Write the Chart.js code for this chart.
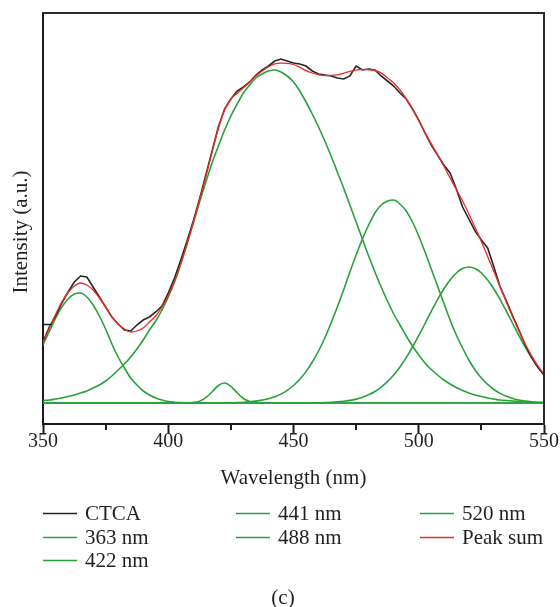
<!DOCTYPE html>
<html>
<head>
<meta charset="utf-8">
<title>CTCA peak fit</title>
<script src="https://cdn.jsdelivr.net/npm/chart.js@4.4.1/dist/chart.umd.min.js"></script>
<style>
  html, body { margin: 0; padding: 0; background: #fff; }
  canvas { display: block; }
</style>
</head>
<body>
<canvas id="chart" width="560" height="607"></canvas>
<script>
// --- data (intensity in a.u., baseline = 0) ---
// x grid: 350 .. 550 nm every 2.5 nm (81 points)
const wavelengths = Array.from({ length: 81 }, (_, i) => 350 + 2.5 * i);

const ctca = [
  61, 76, 87, 100, 111, 121, 127, 126, 116, 106,
  96, 86, 79, 73, 72, 78, 83, 86, 91, 97,
  110, 125, 143, 162, 182, 204, 228, 252, 276, 294,
  304, 312, 316, 321, 328, 333, 337, 342, 344, 342,
  340, 339, 337, 332, 329, 328, 327, 325, 324, 327,
  337, 333, 334, 333, 327, 322, 317, 310, 304, 294,
  283, 270, 258, 248, 238, 230, 214, 196, 184, 172,
  163, 155, 136, 116, 102, 87, 73, 58, 46, 36,
  28
];

const p363 = [
  58, 71.5, 84.5, 96, 104, 109, 110, 106, 98, 87,
  74, 59, 46, 35, 25, 18, 12, 8, 5, 3,
  1.5, 0.8, 0.4, 0.2, 0, 0, 0, 0, 0, 0,
  0, 0, 0, 0, 0, 0, 0, 0, 0, 0,
  0, 0, 0, 0, 0, 0, 0, 0, 0, 0,
  0, 0, 0, 0, 0, 0, 0, 0, 0, 0,
  0, 0, 0, 0, 0, 0, 0, 0, 0, 0,
  0, 0, 0, 0, 0, 0, 0, 0, 0, 0,
  0
];

const p422 = [
  0, 0, 0, 0, 0, 0, 0, 0, 0, 0,
  0, 0, 0, 0, 0, 0, 0, 0, 0, 0,
  0, 0, 0, 0.1, 0.5, 1.8, 5.3, 11.2, 17.5, 20,
  16.7, 10.2, 4.5, 1.5, 0.4, 0.1, 0, 0, 0, 0,
  0, 0, 0, 0, 0, 0, 0, 0, 0, 0,
  0, 0, 0, 0, 0, 0, 0, 0, 0, 0,
  0, 0, 0, 0, 0, 0, 0, 0, 0, 0,
  0, 0, 0, 0, 0, 0, 0, 0, 0, 0,
  0
];

const p441 = [
  2.5, 3, 4, 5, 6.5, 8, 10, 12, 15, 18,
  22, 27, 33, 39, 46, 54, 63, 73, 82, 93,
  106, 121, 139, 159, 180, 201, 221, 240, 257, 273,
  287, 299, 310, 318, 325, 329, 332, 333, 331, 327,
  321, 312, 301, 289, 276, 262, 247, 231, 215, 198,
  181, 164, 147, 131, 116, 102, 89, 78, 67, 57,
  48, 40, 33.5, 28, 23, 19, 15.5, 12.5, 10, 8,
  6.5, 5, 4, 3, 2.5, 2, 1.5, 1, 0.7, 0.5,
  0.3
];

const p488 = [
  0, 0, 0, 0, 0, 0, 0, 0, 0, 0,
  0, 0, 0, 0, 0, 0, 0, 0, 0, 0,
  0, 0, 0, 0, 0, 0, 0, 0, 0, 0,
  0.2, 0.4, 0.7, 1.2, 1.9, 2.9, 4.2, 6.2, 8.9, 12.6,
  17.5, 23.7, 31.4, 41, 52, 65, 80, 96, 113, 131,
  148, 164, 178, 190, 198, 202, 203, 199, 192, 181,
  167, 151, 134, 117, 100, 83, 68, 55, 43, 33,
  25, 18.6, 13.5, 9.6, 6.7, 4.6, 3, 2, 1.3, 0.8,
  0.5
];

const p520 = [
  0, 0, 0, 0, 0, 0, 0, 0, 0, 0,
  0, 0, 0, 0, 0, 0, 0, 0, 0, 0,
  0, 0, 0, 0, 0, 0, 0, 0, 0, 0,
  0, 0, 0, 0, 0, 0, 0, 0, 0, 0,
  0, 0, 0, 0, 0.25, 0.4, 0.7, 1.1, 1.7, 2.6,
  3.9, 5.7, 8.2, 11.5, 15.9, 21.3, 28, 36, 45.4, 56,
  67.4, 79.5, 91.6, 103.4, 114, 123, 130, 134.5, 136, 134.5,
  130, 123, 114, 103.4, 91.6, 79.5, 67.4, 56, 45.4, 36,
  28
];

const peakSum = [
  60.5, 74.5, 88.5, 101, 110.5, 117, 120, 118, 113, 105,
  96, 86, 79, 74, 71, 72, 75, 81, 87, 96,
  107.5, 121.8, 139.4, 159.3, 180.5, 202.8, 226.3, 251.2, 274.5, 293,
  303.9, 309.6, 315.2, 320.7, 327.3, 332, 336.2, 339.2, 339.9, 339.6,
  338.5, 335.7, 332.4, 330, 328.3, 327.4, 327.7, 328.1, 329.7, 331.6,
  332.9, 333.7, 333.2, 332.5, 329.9, 325.3, 320, 313, 304.4, 294,
  282.4, 270.5, 259.1, 248.4, 237, 225, 213.5, 202, 189, 175.5,
  161.5, 146.6, 131.5, 116, 100.8, 86.1, 71.9, 59, 47.4, 37.3,
  28.8
];

const xMajorTicks = [350, 400, 450, 500, 550];
const xMinorTicks = [375, 425, 475, 525];
const yTicks = [79];

const BLACK = "#262626";
const GREEN = "#27a23a";
const RED = "#ee2b24";
const INK = "#231f20";
const FONT = "'Liberation Serif', 'Times New Roman', serif";

const pts = (ys) => ys.map((y, i) => ({ x: wavelengths[i], y }));

// --- extra drawing: top/right frame, minor ticks, y title, legend, caption ---
const decorPlugin = {
  id: "decor",
  afterDraw(chart, args, opts) {
    const { ctx, chartArea: a, scales } = chart;
    ctx.save();

    // frame (top + right)
    ctx.strokeStyle = "#2a2a2a";
    ctx.lineWidth = 2;
    ctx.beginPath();
    ctx.moveTo(a.left - 1, a.top);
    ctx.lineTo(a.right, a.top);
    ctx.lineTo(a.right, a.bottom + 1);
    ctx.stroke();

    // minor x ticks (outward)
    ctx.strokeStyle = "#1a1a1a";
    xMinorTicks.forEach(v => {
      const px = Math.round(scales.x.getPixelForValue(v));
      ctx.beginPath();
      ctx.moveTo(px, a.bottom);
      ctx.lineTo(px, a.bottom + 6);
      ctx.stroke();
    });

    // the lone y tick (inward)
    ctx.lineWidth = 1.5;
    yTicks.forEach(v => {
      const py = Math.round(scales.y.getPixelForValue(v)) + 0.5;
      ctx.beginPath();
      ctx.moveTo(a.left, py);
      ctx.lineTo(a.left + 9, py);
      ctx.stroke();
    });

    // y axis title
    ctx.fillStyle = INK;
    ctx.font = `21px ${FONT}`;
    ctx.textAlign = "center";
    ctx.textBaseline = "middle";
    ctx.save();
    ctx.translate(opts.yTitleX, opts.yTitleY);
    ctx.rotate(-Math.PI / 2);
    ctx.fillText("Intensity (a.u.)", 0, 0);
    ctx.restore();

    // legend, filled column by column like the original
    ctx.textAlign = "left";
    chart.data.datasets.forEach((ds, i) => {
      const [c, r] = opts.slots[i];
      const x = opts.colX[c];
      const y = opts.rowY[r];
      ctx.strokeStyle = ds.borderColor;
      ctx.lineWidth = 1.6;
      ctx.beginPath();
      ctx.moveTo(x, y + 0.5);
      ctx.lineTo(x + opts.lineLen, y + 0.5);
      ctx.stroke();
      ctx.fillStyle = INK;
      ctx.fillText(ds.label, x + opts.lineLen + 8, y + 1);
    });

    // panel caption
    ctx.textAlign = "center";
    ctx.fillText("(c)", opts.captionX, opts.captionY);
    ctx.restore();
  }
};

const lineStyle = { pointRadius: 0, pointHoverRadius: 0, fill: false };

const ctx = document.getElementById("chart").getContext("2d");
Chart.defaults.font.family = FONT;
Chart.defaults.color = INK;

new Chart(ctx, {
  type: "line",
  data: {
    datasets: [
      { label: "CTCA", data: pts(ctca), borderColor: BLACK, borderWidth: 1.6, tension: 0, order: 1, ...lineStyle },
      { label: "363 nm", data: pts(p363), borderColor: GREEN, borderWidth: 1.6, cubicInterpolationMode: "monotone", order: 2, ...lineStyle },
      { label: "422 nm", data: pts(p422), borderColor: GREEN, borderWidth: 1.6, cubicInterpolationMode: "monotone", order: 2, ...lineStyle },
      { label: "441 nm", data: pts(p441), borderColor: GREEN, borderWidth: 1.6, cubicInterpolationMode: "monotone", order: 2, ...lineStyle },
      { label: "488 nm", data: pts(p488), borderColor: GREEN, borderWidth: 1.6, cubicInterpolationMode: "monotone", order: 2, ...lineStyle },
      { label: "520 nm", data: pts(p520), borderColor: GREEN, borderWidth: 1.6, cubicInterpolationMode: "monotone", order: 2, ...lineStyle },
      { label: "Peak sum", data: pts(peakSum), borderColor: RED, borderWidth: 1.3, cubicInterpolationMode: "monotone", order: 0, ...lineStyle }
    ]
  },
  options: {
    responsive: false,
    devicePixelRatio: 1,
    animation: false,
    events: [],
    layout: { padding: { left: 0, top: 13, right: 16, bottom: 113 } },
    plugins: {
      legend: { display: false },
      tooltip: { enabled: false },
      decor: {
        yTitleX: 21, yTitleY: 232,
        slots: [[0, 0], [0, 1], [0, 2], [1, 0], [1, 1], [2, 0], [2, 1]],
        colX: [43, 236, 420],
        rowY: [513, 537, 560],
        lineLen: 34,
        captionX: 283, captionY: 598
      }
    },
    scales: {
      x: {
        type: "linear",
        min: 350,
        max: 550,
        afterBuildTicks: (s) => { s.ticks = xMajorTicks.map(v => ({ value: v })); },
        afterFit: (s) => { s.height = 70; },
        ticks: { font: { size: 20 }, color: INK, padding: -4, maxRotation: 0 },
        grid: { drawOnChartArea: false, drawTicks: true, tickLength: 10, tickWidth: 2, tickColor: "#1a1a1a" },
        border: { display: true, color: "#1a1a1a", width: 2 },
        title: { display: true, text: "Wavelength (nm)", font: { size: 21 }, color: INK, padding: { top: 0, bottom: 3 } }
      },
      y: {
        type: "linear",
        min: -21,
        max: 390,
        afterFit: (s) => { s.width = 43; },
        ticks: { display: false },
        grid: { display: false },
        border: { display: true, color: "#1a1a1a", width: 2 }
      }
    }
  },
  plugins: [decorPlugin]
});
</script>
</body>
</html>
